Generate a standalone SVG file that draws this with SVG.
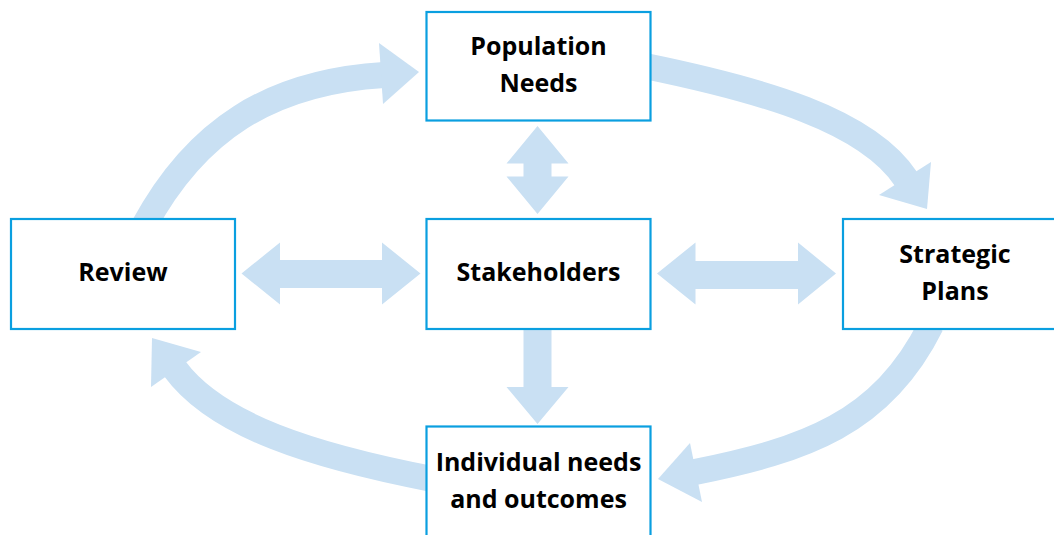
<svg xmlns="http://www.w3.org/2000/svg" width="1054" height="535" viewBox="0 0 1054 535">
  <style>
    .box { fill: #ffffff; stroke: #0a9fe0; stroke-width: 2.2; }
    .label { font-family: "Open Sans", "Noto Sans", "Liberation Sans", sans-serif; font-weight: 700; font-size: 25px; fill: #000000; text-anchor: middle; }
    .shaft { fill: none; stroke: #c9e0f3; stroke-width: 26; stroke-linecap: butt; }
    .head { fill: #c9e0f3; stroke: none; }
  </style>

  <!-- connectors: broad light-blue arrows, drawn beneath the boxes -->
  <g id="connectors">
    <!-- Review -> Population Needs -->
    <path class="shaft" d="M144,226 C196,130 270,82 384,75"/>
    <polygon class="head" points="419,72 379,43 383,104"/>

    <!-- Population Needs -> Strategic Plans -->
    <path class="shaft" d="M645,66 C762,90 867,120 906,179"/>
    <polygon class="head" points="927,209 879,195 931,162"/>

    <!-- Strategic Plans -> Individual needs and outcomes -->
    <path class="shaft" d="M931,325 C882,424 804,450 695,472"/>
    <polygon class="head" points="658,479 690,443 702,502"/>

    <!-- Individual needs and outcomes -> Review -->
    <path class="shaft" d="M432,479 C314,456 217,426 175,369"/>
    <polygon class="head" points="152,338 201,352 151,387"/>

    <!-- Population Needs <-> Stakeholders -->
    <polygon class="head" points="537.5,126 568.5,163.5 551.5,163.5 551.5,176.5 568.5,176.5 537.5,214 506.5,176.5 523.5,176.5 523.5,163.5 506.5,163.5"/>

    <!-- Stakeholders -> Individual needs and outcomes -->
    <polygon class="head" points="523.5,330 551.5,330 551.5,387 568.5,387 537.5,424 506.5,387 523.5,387"/>

    <!-- Review <-> Stakeholders -->
    <polygon class="head" points="241.5,273.5 280,242.5 280,260 382,260 382,242.5 420.5,273.5 382,304.5 382,288 280,288 280,304.5"/>

    <!-- Stakeholders <-> Strategic Plans -->
    <polygon class="head" points="657,273.5 695.5,242.5 695.5,261 798,261 798,242.5 836,273.5 798,304.5 798,289 695.5,289 695.5,304.5"/>
  </g>

  <g id="population-needs">
    <rect class="box" x="426.5" y="12" width="224" height="108.5"/>
    <text class="label" x="538.5" y="54.5">Population</text>
    <text class="label" x="538.5" y="91.5">Needs</text>
  </g>

  <g id="review">
    <rect class="box" x="11" y="219" width="224" height="110"/>
    <text class="label" x="123" y="281">Review</text>
  </g>

  <g id="stakeholders">
    <rect class="box" x="426.5" y="219" width="224" height="110"/>
    <text class="label" x="538.5" y="281">Stakeholders</text>
  </g>

  <g id="strategic-plans">
    <rect class="box" x="843" y="219" width="224" height="110"/>
    <text class="label" x="955" y="263">Strategic</text>
    <text class="label" x="955" y="300">Plans</text>
  </g>

  <g id="individual-needs">
    <rect class="box" x="426.5" y="426.5" width="224" height="110"/>
    <text class="label" x="538.5" y="471">Individual needs</text>
    <text class="label" x="538.5" y="508">and outcomes</text>
  </g>
</svg>
